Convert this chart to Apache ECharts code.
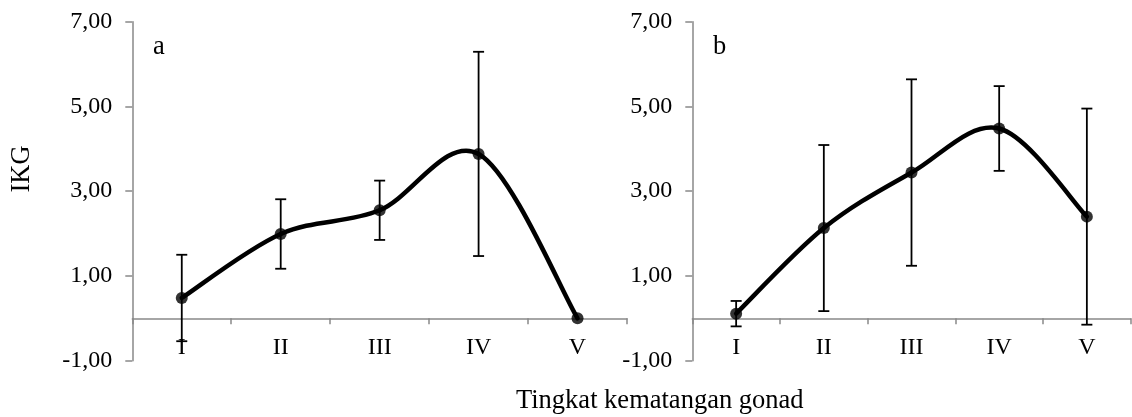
<!DOCTYPE html>
<html>
<head>
<meta charset="utf-8">
<script src="https://cdn.jsdelivr.net/npm/echarts@6/dist/echarts.min.js"></script>
<style>
html,body{margin:0;padding:0;background:#fff;}
#c{width:1132px;height:417px;}
</style>
</head>
<body>
<div id="c"></div>
<script>
// ---- data ----
var categories = ['I', 'II', 'III', 'IV', 'V'];
var meanA = [0.48, 1.99, 2.55, 3.88, 0.00];
var errA  = [1.02, 0.82, 0.70, 2.41, 0.00];
var meanB = [0.11, 2.13, 3.44, 4.48, 2.40];
var errB  = [0.30, 1.96, 2.20, 1.00, 2.55];
var yTicks = [-1, 1, 3, 5, 7];
var panelLabels = ['a', 'b'];
var yName = 'IKG';
var xName = 'Tingkat kematangan gonad';

var FONT = "'Liberation Serif', 'Times New Roman', serif";
var AXIS_COLOR = '#898989';

var chart = echarts.init(document.getElementById('c'), null, {renderer: 'canvas'});

function fmt(v) { return v.toFixed(2).replace('.', ','); }

function xAxisFor(i) {
  return {
    type: 'category', gridIndex: i, data: categories,
    axisLine: {onZero: true, lineStyle: {color: AXIS_COLOR, width: 1.5}},
    axisTick: {show: true, length: 6, lineStyle: {color: AXIS_COLOR, width: 1.5}},
    axisLabel: {color: '#000', fontFamily: FONT, fontSize: 24, margin: -25},
    splitLine: {show: false}
  };
}
function yAxisFor(i) {
  return {
    type: 'value', gridIndex: i, min: -1, max: 7,
    axisLine: {show: true, lineStyle: {color: AXIS_COLOR, width: 1.5}},
    axisTick: {show: true, length: 7, customValues: yTicks, lineStyle: {color: AXIS_COLOR, width: 1.5}},
    axisLabel: {color: '#000', fontFamily: FONT, fontSize: 24, margin: 20,
      customValues: yTicks, formatter: function (v) { return fmt(v); }},
    splitLine: {show: false}
  };
}

function toData(mean, err) {
  return mean.map(function (m, i) { return [i, m, err[i]]; });
}

// Excel-like smoothed curve (Catmull-Rom Bezier segments)
function curveRender(params, api) {
  var n = params.dataInsideLength;
  var i = params.dataIndexInside;
  if (i >= n - 1) return null;
  function pt(k) {
    k = Math.max(0, Math.min(n - 1, k));
    return api.coord([api.value(0, k), api.value(1, k)]);
  }
  var p0 = pt(i - 1), p1 = pt(i), p2 = pt(i + 1), p3 = pt(i + 2);
  return {
    type: 'bezierCurve',
    shape: {
      x1: p1[0], y1: p1[1], x2: p2[0], y2: p2[1],
      cpx1: p1[0] + (p2[0] - p0[0]) / 6, cpy1: p1[1] + (p2[1] - p0[1]) / 6,
      cpx2: p2[0] - (p3[0] - p1[0]) / 6, cpy2: p2[1] - (p3[1] - p1[1]) / 6
    },
    style: {stroke: '#000', lineWidth: 4.5, fill: null, lineCap: 'round', lineJoin: 'round'}
  };
}

function errRender(params, api) {
  var x = api.value(0), m = api.value(1), e = api.value(2);
  if (!e) return null;
  var top = api.coord([x, m + e]);
  var bot = api.coord([x, m - e]);
  var hw = 5.5;
  var st = {stroke: '#000', lineWidth: 1.8};
  return {
    type: 'group',
    children: [
      {type: 'line', shape: {x1: top[0], y1: top[1], x2: bot[0], y2: bot[1]}, style: st},
      {type: 'line', shape: {x1: top[0] - hw, y1: top[1], x2: top[0] + hw, y2: top[1]}, style: st},
      {type: 'line', shape: {x1: bot[0] - hw, y1: bot[1], x2: bot[0] + hw, y2: bot[1]}, style: st}
    ]
  };
}

function seriesFor(i, mean, err) {
  var d = toData(mean, err);
  return [
    {type: 'custom', xAxisIndex: i, yAxisIndex: i, data: d, renderItem: errRender,
      encode: {x: 0, y: 1}, z: 2, silent: true},
    {type: 'custom', xAxisIndex: i, yAxisIndex: i, data: d, renderItem: curveRender,
      encode: {x: 0, y: 1}, z: 3, silent: true},
    {type: 'scatter', xAxisIndex: i, yAxisIndex: i, data: d.map(function (p) { return [p[0], p[1]]; }),
      symbol: 'circle', symbolSize: 12, itemStyle: {color: '#000'}, z: 4, silent: true}
  ];
}

var option = {
  animation: false,
  backgroundColor: '#fff',
  grid: [
    {left: 132.3, top: 21.7, width: 494.7, height: 339},
    {left: 692.3, top: 21.7, width: 438.4, height: 339}
  ],
  xAxis: [xAxisFor(0), xAxisFor(1)],
  yAxis: [yAxisFor(0), yAxisFor(1)],
  series: seriesFor(0, meanA, errA).concat(seriesFor(1, meanB, errB)),
  graphic: [
    {type: 'text', x: 153, y: 47, style: {text: panelLabels[0], font: '26.5px ' + FONT, fill: '#000', align: 'left', verticalAlign: 'middle'}},
    {type: 'text', x: 713, y: 47, style: {text: panelLabels[1], font: '26.5px ' + FONT, fill: '#000', align: 'left', verticalAlign: 'middle'}},
    {type: 'text', x: 22, y: 169, rotation: Math.PI / 2, style: {text: yName, font: '26.5px ' + FONT, fill: '#000', align: 'center', verticalAlign: 'middle'}},
    {type: 'text', x: 516, y: 401.5, style: {text: xName, font: '26.5px ' + FONT, fill: '#000', align: 'left', verticalAlign: 'middle'}}
  ]
};
chart.setOption(option);
</script>
</body>
</html>
